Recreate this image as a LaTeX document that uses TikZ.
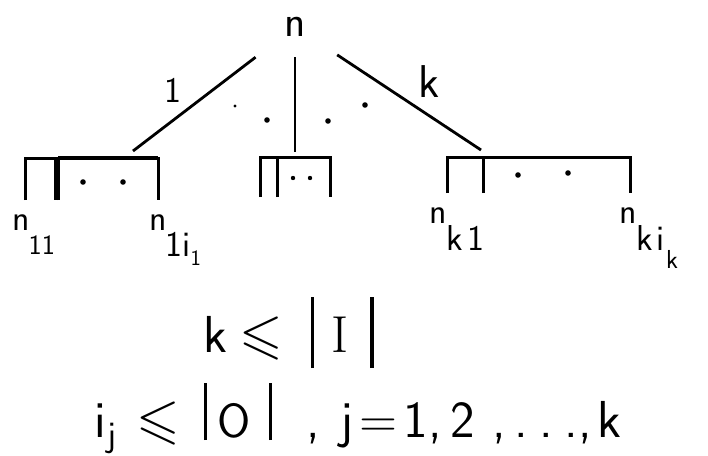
\documentclass[tikz,border=0pt]{standalone}
\usepackage{fontspec}
\usepackage{amssymb}
\usepackage{tikz}
\tikzset{
treeedge/.style={line width=2.8pt},
bracket/.style={line width=3pt},
bracketbold/.style={line width=4.4pt},
rootlbl/.style={font=\fontsize{44}{50}\selectfont\sffamily,inner sep=0pt,minimum width=84pt,minimum height=60pt},
edgelbl/.style={font=\fontsize{40}{46}\selectfont\sffamily,inner sep=5pt},
leaflbl/.style={font=\fontsize{36}{40}\selectfont\sffamily,inner sep=0pt,anchor=base west},
formula/.style={font=\fontsize{52}{60}\selectfont\sffamily,inner sep=0pt,anchor=base west},
gapdot/.style={fill=black}
}
\newcommand{\lowsub}[2]{\raisebox{-#1}{#2}}
\newcommand{\barline}[2]{\rule[-#1]{3.5pt}{#2}}
\newcommand{\leqsl}{\scalebox{5.6}{\fontsize{10}{12}\selectfont$\leqslant$}}
\newcommand{\placeat}[2]{\makebox[0pt][l]{\hspace{#1}#2}}

\begin{document}
\begin{tikzpicture}[x=1pt,y=-1pt]
\useasboundingbox (0,0) rectangle (708,455);
% root and its three edges
\node[rootlbl] (root) at (295,27) {n};
\coordinate (top1) at (133,151);
\coordinate (topm) at (295,152);
\coordinate (topk) at (481,150);
\draw[treeedge] (root)--node[edgelbl,font=\fontsize{36}{40}\selectfont\sffamily,pos=0.55,above left]{1}(top1);
\draw[treeedge] (root)--(topm);
\draw[treeedge] (root)--node[edgelbl,font=\fontsize{46}{50}\selectfont\sffamily,pos=0.52,above right]{k}(topk);
\fill[gapdot] (235,106) circle (1.6pt);
\fill[gapdot] (267,120) circle (2.8pt);
\fill[gapdot] (328,121) circle (2.8pt);
\fill[gapdot] (365,105) circle (2.8pt);
% brackets of the children
\draw[bracket] (25,200) |- (55,158) -- (55,200);
\draw[bracket] (58,200) |- (158,158) -- (158,200);
\draw[bracketbold] (58,158) -- (158,158);
\fill[gapdot] (83,182) circle (2.8pt);
\fill[gapdot] (123,182) circle (2.8pt);
\draw[bracket] (260,197) |- (277,157) -- (277,197);
\draw[bracket] (277,197) |- (330,157) -- (330,197);
\fill[gapdot] (293,178) circle (2.2pt);
\fill[gapdot] (310,178) circle (2.2pt);
\draw[bracket] (447,193) |- (483,157) -- (483,193);
\draw[bracket] (483,193) |- (630,157) -- (630,193);
\fill[gapdot] (518,175) circle (2.8pt);
\fill[gapdot] (568,173) circle (2.8pt);
% leaf labels
\node[leaflbl] (leaf11) at (12,230)
  {n\hspace{-1pt}\lowsub{24pt}{\fontsize{28}{30}\selectfont 11}};
\node[leaflbl] (leaf1i) at (149,230)
  {n\hspace{-1pt}\lowsub{26pt}{1i\lowsub{9pt}{\fontsize{22}{24}\selectfont 1}}};
\node[leaflbl] (leafk1) at (429,223)
  {n\lowsub{27pt}{k\hspace{4pt}1}};
\node[leaflbl] (leafki) at (619,223)
  {n\lowsub{27pt}{k\hspace{3pt}i\hspace{2pt}\lowsub{18pt}{\fontsize{26}{28}\selectfont k}}};
% bounds
\node[formula] (boundk) at (203,352)
  {k\hspace{12pt}\leqsl\hspace{28pt}\barline{16pt}{71pt}\hspace{17pt}\textrm{I}\hspace{22pt}\barline{16pt}{71pt}};
\node[formula] (boundi) at (0,437)
  {\placeat{94pt}{i\hspace{1pt}\lowsub{9pt}{\fontsize{36}{40}\selectfont j}}%
   \placeat{136pt}{\leqsl}%
   \placeat{203pt}{\barline{3pt}{57pt}}%
   \placeat{217pt}{\fontsize{48}{52}\selectfont O}%
   \placeat{268pt}{\barline{3pt}{57pt}}%
   \placeat{306pt}{,}%
   \placeat{340pt}{j}%
   \placeat{359pt}{=}%
   \placeat{403pt}{1}%
   \placeat{428pt}{,}%
   \placeat{450pt}{2}%
   \placeat{492pt}{,}%
   \placeat{514pt}{.}%
   \placeat{539pt}{.}%
   \placeat{564pt}{.}%
   \placeat{578pt}{,}%
   \placeat{597pt}{k}};
\end{tikzpicture}
\end{document}
